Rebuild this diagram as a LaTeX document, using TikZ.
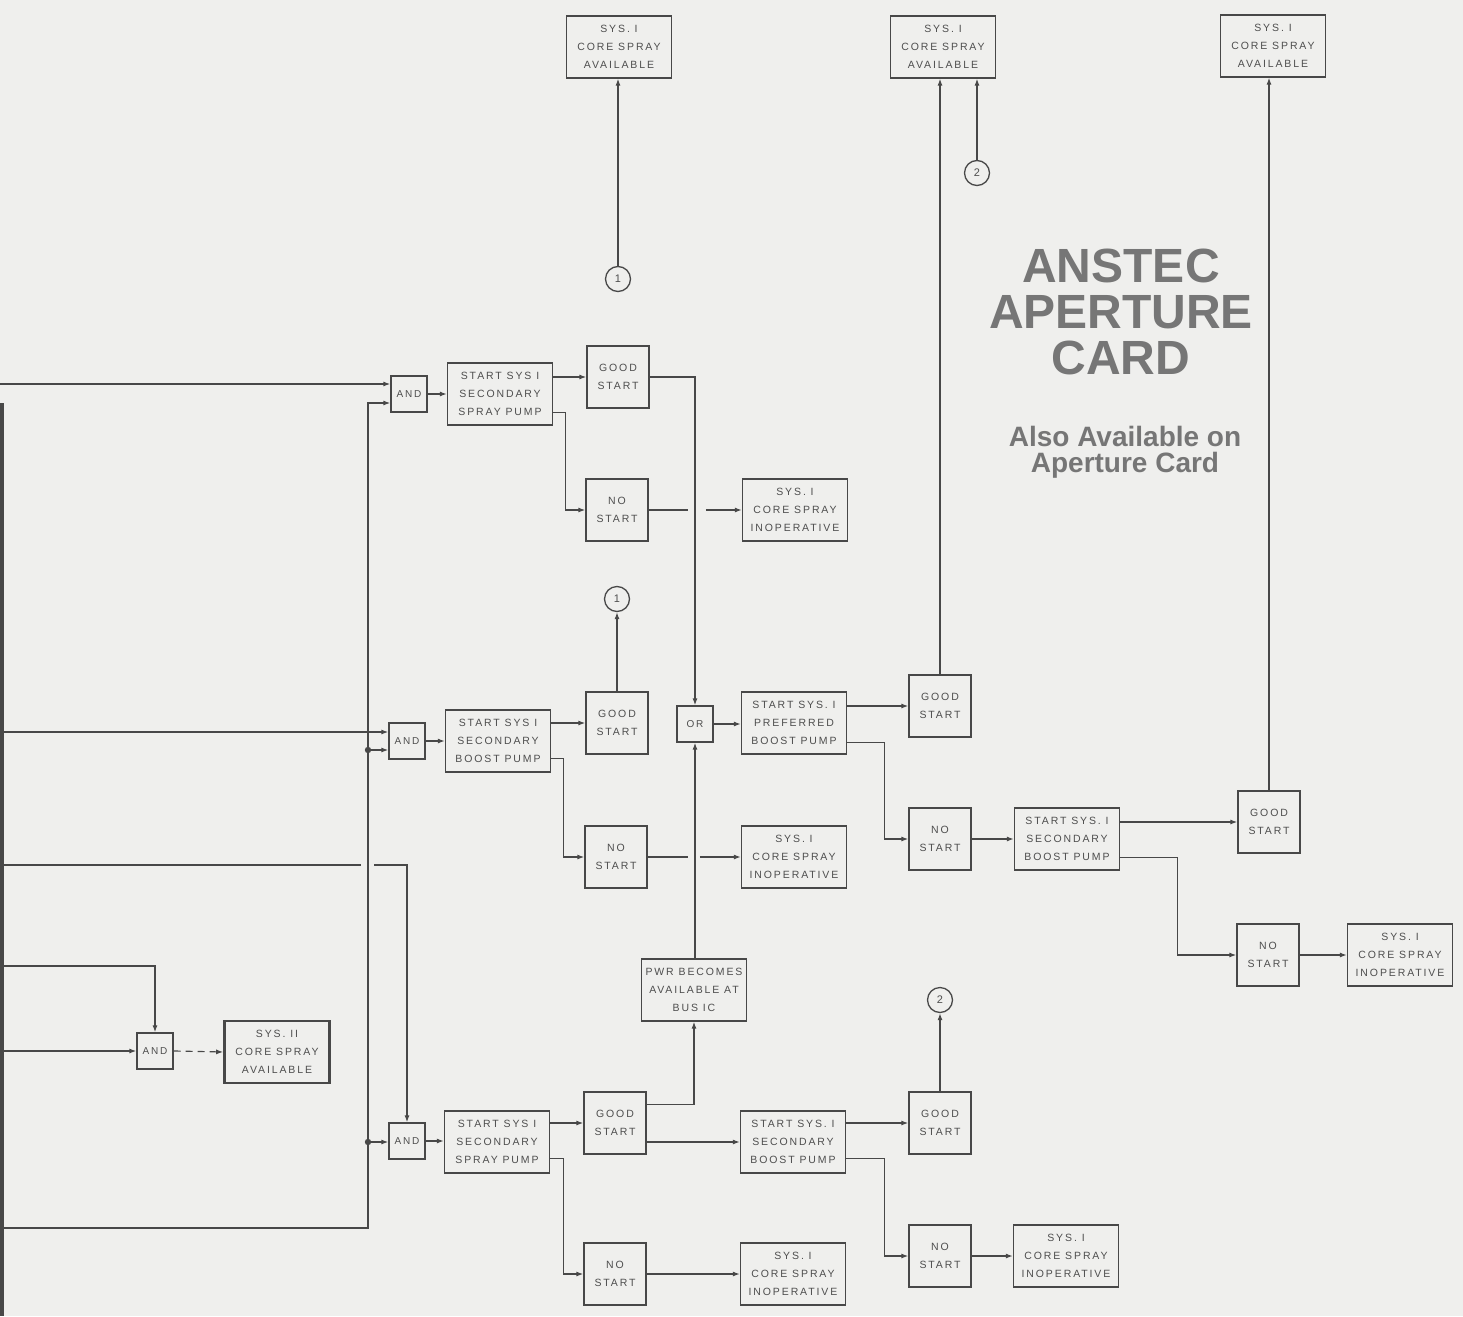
\documentclass[tikz,border=0pt]{standalone}
\usepackage{fontspec}
\setmainfont{Liberation Sans}
\newfontfamily\boxfont[LetterSpace=18]{Liberation Sans}
\usetikzlibrary{arrows.meta}
\definecolor{bg}{RGB}{239,239,237}
\definecolor{ln}{RGB}{72,72,72}
\definecolor{tx}{RGB}{78,78,78}
\definecolor{wm}{RGB}{118,118,118}
\begin{document}
\begin{tikzpicture}[x=1pt,y=-1pt,
  every node/.style={inner sep=0pt},
  base/.style={draw=ln, line width=1.3pt, text=tx, align=center, font={\boxfont\fontsize{10.5}{18}\selectfont}},
  wbox/.style={base, minimum width=105pt, minimum height=62pt},
  sbox/.style={base, minimum width=62pt, minimum height=62pt},
  gate/.style={base, minimum width=36pt, minimum height=36pt, font={\boxfont\fontsize{10}{12}\selectfont}},
  conn/.style={base, circle, minimum size=25pt, font={\fontsize{11}{12}\selectfont}},
  wire/.style={draw=ln, line width=1.2pt},
  arr/.style={wire, -{Latex[length=7pt,width=5pt]}},
  wmbig/.style={text=wm, align=center, font={\bfseries\fontsize{48}{46}\selectfont}},
  wmsmall/.style={text=wm, align=center, font={\bfseries\fontsize{28}{26}\selectfont}},
]
\useasboundingbox[fill=bg] (0,0) rectangle (1463,1316);

% card border
\coordinate (eb1) at (2,403);
\coordinate (eb2) at (2,1316);
\draw[draw=ln, line width=3.5pt] (eb1) -- (eb2);

% top result boxes
\node[wbox] (top1) at (619,47) {SYS. I\\CORE SPRAY\\AVAILABLE};
\node[wbox] (top2) at (943,47) {SYS. I\\CORE SPRAY\\AVAILABLE};
\node[wbox] (top3) at (1273,46) {SYS. I\\CORE SPRAY\\AVAILABLE};

% connectors (circles)
\node[conn] (c1a) at (618,279) {1};
\node[conn] (c1b) at (617,599) {1};
\node[conn] (c2a) at (977,173) {2};
\node[conn] (c2b) at (940,1000) {2};

% gates
\node[gate] (and1) at (409,394) {AND};
\node[gate] (and2) at (407,741) {AND};
\node[gate] (and3) at (407,1141) {AND};
\node[gate] (and4) at (155,1051) {AND};
\node[gate] (or) at (695,724) {OR};

% row 1
\node[wbox] (ss1) at (500,394) {START SYS I\\SECONDARY\\SPRAY PUMP};
\node[sbox] (gs1) at (618,377) {GOOD\\START};
\node[sbox] (ns1) at (617,510) {NO\\START};
\node[wbox] (inop1) at (795,510) {SYS. I\\CORE SPRAY\\INOPERATIVE};

% row 2
\node[wbox] (ss2) at (498,741) {START SYS I\\SECONDARY\\BOOST PUMP};
\node[sbox] (gs2) at (617,723) {GOOD\\START};
\node[sbox] (ns2) at (616,857) {NO\\START};
\node[wbox] (inop2) at (794,857) {SYS. I\\CORE SPRAY\\INOPERATIVE};
\node[wbox] (pref) at (794,723) {START SYS. I\\PREFERRED\\BOOST PUMP};
\node[sbox] (gs3) at (940,706) {GOOD\\START};
\node[sbox] (ns3) at (940,839) {NO\\START};
\node[wbox] (ss3) at (1067,839) {START SYS. I\\SECONDARY\\BOOST PUMP};
\node[sbox] (gs4) at (1269,822) {GOOD\\START};
\node[sbox] (ns4) at (1268,955) {NO\\START};
\node[wbox] (inop4) at (1400,955) {SYS. I\\CORE SPRAY\\INOPERATIVE};

% bottom rows
\node[wbox] (pwr) at (694,990) {PWR BECOMES\\AVAILABLE AT\\BUS IC};
\node[wbox] (ss5) at (497,1142) {START SYS I\\SECONDARY\\SPRAY PUMP};
\node[sbox] (gs5) at (615,1123) {GOOD\\START};
\node[wbox] (ss6) at (793,1142) {START SYS. I\\SECONDARY\\BOOST PUMP};
\node[sbox] (gs6) at (940,1123) {GOOD\\START};
\node[sbox] (ns5) at (615,1274) {NO\\START};
\node[wbox] (inop5) at (793,1274) {SYS. I\\CORE SPRAY\\INOPERATIVE};
\node[sbox] (ns6) at (940,1256) {NO\\START};
\node[wbox] (inop6) at (1066,1256) {SYS. I\\CORE SPRAY\\INOPERATIVE};

% SYS II box
\node[wbox, line width=2.6pt] (sys2) at (277,1052) {SYS. II\\CORE SPRAY\\AVAILABLE};

% left inputs
\coordinate (in1) at (0,384);
\coordinate (in2) at (0,732);
\coordinate (in3) at (0,865);
\coordinate (in4) at (0,966);
\coordinate (in5) at (0,1051);
\coordinate (in6) at (0,1228);
\coordinate (vtop) at (368,403);
\coordinate (vbot) at (368,1228);
\coordinate (j2) at (368,750);
\coordinate (j3) at (368,1142);
\coordinate (g1) at (361,865);
\coordinate (g2) at (374,865);

\draw[arr] (in1) -- (in1 -| and1.west);
\draw[arr] (in6) -- (vbot) -- (vtop) -- (vtop -| and1.west);
\draw[arr] (in2) -- (in2 -| and2.west);
\fill[ln] (j2) circle (3.2);
\draw[arr] (j2) -- (j2 -| and2.west);
\draw[wire] (in3) -- (g1);
\draw[arr] (g2) -- (and3.north |- g2) -- (and3.north);
\fill[ln] (j3) circle (3.2);
\draw[arr] (j3) -- (j3 -| and3.west);
\draw[arr] (in4) -- (and4.north |- in4) -- (and4.north);
\draw[arr] (in5) -- (in5 -| and4.west);
\draw[arr, dashed, dash pattern=on 7pt off 5pt] (and4.east) -- (sys2.west);

% gates to start boxes
\draw[arr] (and1.east) -- (and1.east -| ss1.west);
\draw[arr] (and2.east) -- (and2.east -| ss2.west);
\draw[arr] (and3.east) -- (and3.east -| ss5.west);

% row 1 connections
\draw[arr] (ss1.east |- gs1) -- (gs1.west);
\draw[arr] ([yshift=13pt]ss1.south east) -- ++(12,0) |- (ns1.west);
\draw[arr] (gs1.east) -- (or.north |- gs1.east) -- (or.north);
\draw[wire] (ns1.east) -- ++(39,0);
\draw[arr] ([xshift=-36pt]inop1.west) -- (inop1.west);
\draw[arr] (c1a.north) -- (c1a.north |- top1.south);

% row 2 connections
\draw[arr] (gs2.north) -- (c1b.south);
\draw[arr] (ss2.east |- gs2) -- (gs2.west);
\draw[arr] ([yshift=14pt]ss2.south east) -- ++(12,0) |- (ns2.west);
\draw[wire] (ns2.east) -- ++(40,0);
\draw[arr] ([xshift=-41pt]inop2.west) -- (inop2.west);
\draw[arr] (or.east) -- (or.east -| pref.west);
\draw[arr] (pref.east |- gs3) -- (gs3.west);
\draw[arr] ([yshift=12pt]pref.south east) -- ++(37,0) |- (ns3.west);
\draw[arr] (gs3.north) -- (gs3.north |- top2.south);
\draw[arr] (c2a.north) -- (c2a.north |- top2.south);
\draw[arr] (ns3.east) -- (ns3.east -| ss3.west);
\draw[arr] (ss3.east |- gs4) -- (gs4.west);
\draw[arr] ([yshift=13pt]ss3.south east) -- ++(57,0) |- (ns4.west);
\draw[arr] (ns4.east) -- (ns4.east -| inop4.west);
\draw[arr] (gs4.north) -- (gs4.north |- top3.south);

% bottom connections
\draw[arr] (pwr.north -| or.south) -- (or.south);
\coordinate (gsu) at ([yshift=-13pt]gs5.north east);
\draw[arr] (gsu) -- (gsu -| pwr.south) -- (pwr.south);
\draw[arr] (ss5.east |- gs5) -- (gs5.west);
\draw[arr] (gs5.east |- ss6) -- (ss6.west);
\draw[arr] ([yshift=15pt]ss5.south east) -- ++(13,0) |- (ns5.west);
\draw[arr] (ns5.east) -- (ns5.east -| inop5.west);
\draw[arr] (ss6.east |- gs6) -- (gs6.west);
\draw[arr] ([yshift=15pt]ss6.south east) -- ++(38,0) |- (ns6.west);
\draw[arr] (ns6.east) -- (ns6.east -| inop6.west);
\draw[arr] (gs6.north) -- (c2b.south);

% watermark
\node[wmbig] (wm1) at (1121,312) {ANSTEC\\APERTURE\\CARD};
\node[wmsmall] (wm2) at (1125,452) {Also Available on\\Aperture Card};
\end{tikzpicture}
\end{document}
